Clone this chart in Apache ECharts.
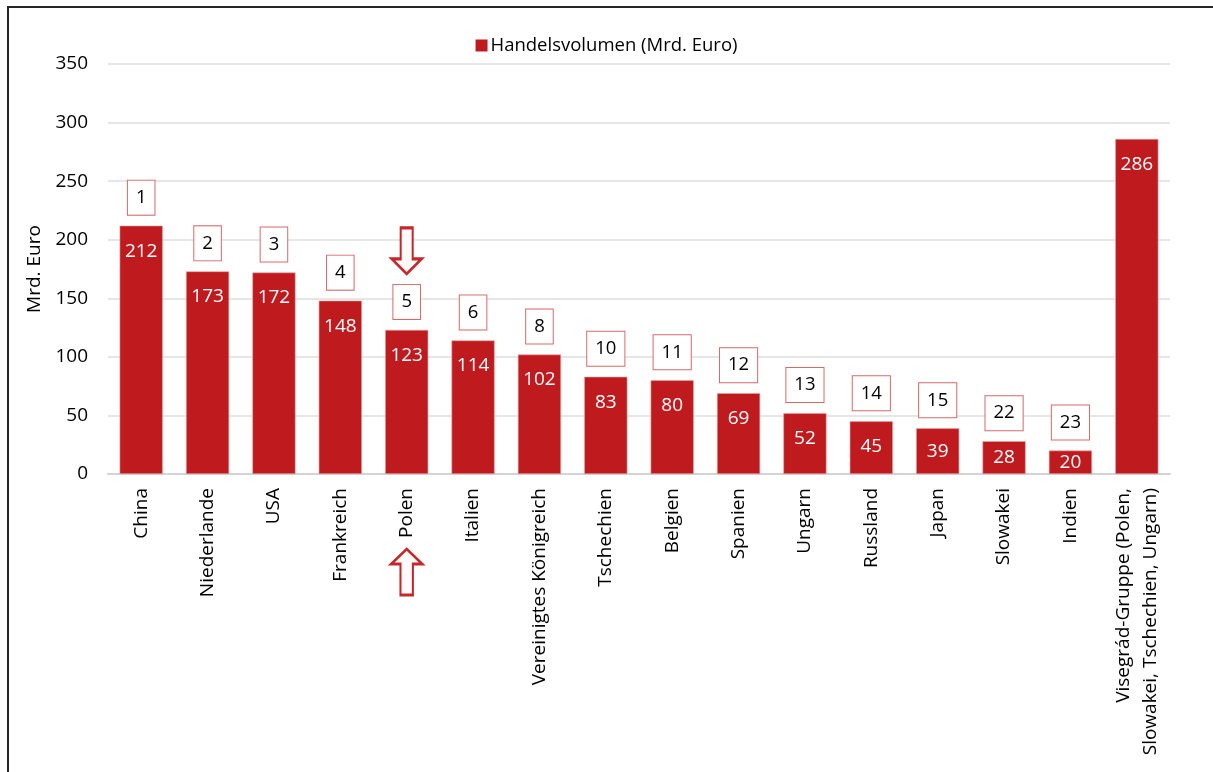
<!DOCTYPE html>
<html>
<head>
<meta charset="utf-8">
<title>Handelsvolumen</title>
<script src="https://cdn.jsdelivr.net/npm/echarts@6/dist/echarts.min.js"></script>
<style>
  html, body { margin: 0; padding: 0; background: #fff; overflow: hidden; }
  #chart { position: absolute; left: 0; top: 0; width: 1213px; height: 772px; }
  .frame {
    position: absolute; left: 7px; top: 6px; width: 1300px; height: 900px;
    border-left: 2px solid #262626; border-top: 2px solid #262626;
    pointer-events: none;
  }
</style>
</head>
<body>
<div id="chart"></div>
<div class="frame"></div>
<script>
const categories = ['China', 'Niederlande', 'USA', 'Frankreich', 'Polen', 'Italien',
  'Vereinigtes Königreich', 'Tschechien', 'Belgien', 'Spanien', 'Ungarn', 'Russland',
  'Japan', 'Slowakei', 'Indien', 'Visegrád-Gruppe (Polen,\nSlowakei, Tschechien, Ungarn)']
const volumes = [212, 173, 172, 148, 123, 114, 102, 83, 80, 69, 52, 45, 39, 28, 20, 286]
const ranks = [1, 2, 3, 4, 5, 6, 8, 10, 11, 12, 13, 14, 15, 22, 23, null]
const yTicks = { min: 0, max: 350, interval: 50 }
const highlighted = 'Polen'

const red = '#bf1b1f'
const hi = categories.indexOf(highlighted)

// arrows pointing at the highlighted country
const arrowDown = 'path://M9,0 L21,0 L21,31 L30,31 L15,46 L0,31 L9,31 Z'
const arrowUp = 'path://M15,0 L30,15 L21,15 L21,46 L9,46 L9,15 L0,15 Z'

const chart = echarts.init(document.getElementById('chart'))
chart.setOption({
  animation: false,
  textStyle: { fontFamily: 'Open Sans', color: '#000' },
  legend: {
    data: ['Handelsvolumen (Mrd. Euro)'],
    top: 31,
    left: 'center',
    icon: 'rect',
    itemWidth: 12,
    itemHeight: 12,
    itemGap: 5,
    itemStyle: { borderWidth: 0 },
    textStyle: { fontSize: 18.5, color: '#000', padding: [0, 0, 0, -2] }
  },
  grid: {
    left: 108,
    right: 43,
    top: 64,
    bottom: 298
  },
  xAxis: {
    type: 'category',
    data: categories,
    axisTick: { show: false },
    axisLine: { lineStyle: { color: '#d4d4d4', width: 2 } },
    axisLabel: {
      rotate: 90,
      interval: 0,
      margin: 14,
      fontSize: 19,
      lineHeight: 27,
      color: '#000'
    }
  },
  yAxis: {
    type: 'value',
    min: yTicks.min,
    max: yTicks.max,
    interval: yTicks.interval,
    name: 'Mrd. Euro',
    nameLocation: 'middle',
    nameGap: 63,
    nameTextStyle: { fontSize: 19, color: '#000' },
    axisLine: { show: false },
    axisTick: { show: false },
    axisLabel: { margin: 20, fontSize: 19, color: '#000' },
    splitLine: { lineStyle: { color: '#dedede', width: 1.5 } }
  },
  series: [
    {
      name: 'Handelsvolumen (Mrd. Euro)',
      type: 'bar',
      barWidth: '65%',
      itemStyle: { color: red, borderColor: '#e6a3a3', borderWidth: 0.6 },
      label: {
        show: true,
        position: 'insideTop',
        distance: 16,
        color: '#fff',
        fontSize: 19
      },
      // small bars: the label sits in the middle of the bar
      data: volumes.map(v => v < 44 ? { value: v, label: { position: 'inside' } } : v)
    },
    {
      name: 'rank',
      type: 'bar',
      barWidth: '65%',
      barGap: '-100%',
      silent: true,
      itemStyle: { color: 'rgba(0,0,0,0)' },
      label: {
        show: true,
        position: 'top',
        distance: 11,
        color: '#000',
        fontSize: 18.5,
        lineHeight: 20,
        backgroundColor: '#fff',
        borderColor: '#d66a6b',
        borderWidth: 1,
        padding: [7, 8, 7, 8],
        formatter: p => String(ranks[p.dataIndex])
      },
      data: volumes.map((v, i) => ranks[i] == null ? { value: v, label: { show: false } } : v),
      markPoint: {
        silent: true,
        symbolKeepAspect: false,
        itemStyle: { color: '#fffafa', borderColor: '#c3282b', borderWidth: 2.5 },
        label: { show: false },
        data: [
          { coord: [hi, volumes[hi]], symbol: arrowDown, symbolSize: [30, 46], symbolOffset: [0, -79] },
          { coord: [hi, 0], symbol: arrowUp, symbolSize: [31, 46], symbolOffset: [0, 98] }
        ]
      }
    }
  ]
})
</script>
</body>
</html>
